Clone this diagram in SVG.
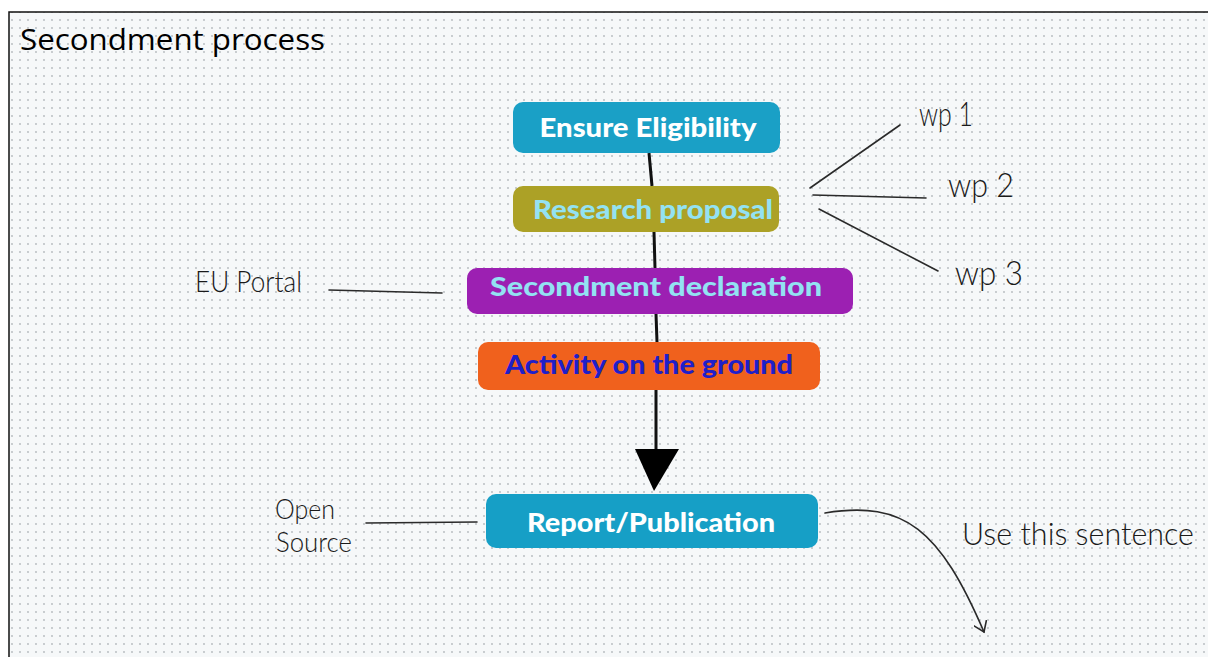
<svg xmlns="http://www.w3.org/2000/svg" width="1208" height="657" viewBox="0 0 1208 657">
  <defs>
    <pattern id="dots" x="0" y="0" width="8" height="8" patternUnits="userSpaceOnUse">
      <rect width="8" height="8" fill="#f6f8f9"/>
      <circle cx="4" cy="4" r="0.9" fill="#b4b9bd"/>
    </pattern>
    <marker id="openV" markerWidth="14" markerHeight="14" refX="10" refY="7" orient="auto" markerUnits="userSpaceOnUse">
      <path d="M0,0 L10,7 L0,14" fill="none" stroke="#2a2a2a" stroke-width="1.6"/>
    </marker>
  </defs>
  <style>
    .box-label { font-family: "Lato", "DejaVu Sans", sans-serif; font-weight: 900; font-size: 27px; text-anchor: middle; }
    .hand { font-family: "Lato", "Open Sans", sans-serif; font-weight: 300; fill: #1a1a1a; }
    .sketch { stroke: #2a2a2a; stroke-width: 1.6; fill: none; stroke-linecap: round; }
    .spine { stroke: #111; stroke-width: 3; fill: none; }
  </style>

  <!-- page and dotted canvas -->
  <rect width="1208" height="657" fill="#ffffff"/>
  <rect x="9" y="12" width="1199" height="645" fill="url(#dots)"/>
  <path d="M9,657 V12 H1208" stroke="#111" stroke-width="1.5" fill="none"/>

  <text x="20" y="50" font-family="Open Sans, Liberation Sans, sans-serif" font-size="30" fill="#000" textLength="305" lengthAdjust="spacingAndGlyphs">Secondment process</text>

  <!-- connectors -->
  <g id="connectors">
    <path class="spine" d="M649,153 L652,186"/>
    <path class="spine" d="M654,232 L655,268"/>
    <path class="spine" d="M656,314 L657,342"/>
    <path class="spine" d="M656,390 L656,452"/>
    <polygon points="635,449 679,449 654,491" fill="#000"/>
    <path class="sketch" d="M810,188 L900,125"/>
    <path class="sketch" d="M813,195 L926,198"/>
    <path class="sketch" d="M819,209 L938,271"/>
    <path class="sketch" d="M329,290 L442,293"/>
    <path class="sketch" d="M366,523 L477,522"/>
    <path class="sketch" d="M825,513 C905,500 940,530 984,632" marker-end="url(#openV)"/>
  </g>

  <g id="ensure-eligibility">
    <rect x="513" y="102" width="267" height="51" rx="10" fill="#1aa0c6"/>
    <text class="box-label" x="648" y="137" fill="#ffffff" textLength="217" lengthAdjust="spacingAndGlyphs">Ensure Eligibility</text>
  </g>
  <g id="research-proposal">
    <rect x="513" y="186" width="266" height="46" rx="10" fill="#aca126"/>
    <text class="box-label" x="653" y="219" fill="#93e2f2" textLength="240" lengthAdjust="spacingAndGlyphs">Research proposal</text>
  </g>
  <g id="secondment-declaration">
    <rect x="467" y="268" width="386" height="46" rx="10" fill="#9c20b2"/>
    <text class="box-label" x="656" y="296" fill="#93e2f2" textLength="332" lengthAdjust="spacingAndGlyphs">Secondment declaration</text>
  </g>
  <g id="activity-on-the-ground">
    <rect x="478" y="342" width="342" height="48" rx="10" fill="#f0611d"/>
    <text class="box-label" x="649" y="374" fill="#1f1fc9" textLength="288" lengthAdjust="spacingAndGlyphs">Activity on the ground</text>
  </g>
  <g id="report-publication">
    <rect x="486" y="494" width="332" height="54" rx="10" fill="#169fc6"/>
    <text class="box-label" x="651" y="532" fill="#ffffff" textLength="248" lengthAdjust="spacingAndGlyphs">Report/Publication</text>
  </g>

  <g id="wp1"><text class="hand" x="919" y="126" font-size="34" textLength="54" lengthAdjust="spacingAndGlyphs">wp 1</text></g>
  <g id="wp2"><text class="hand" x="948" y="197" font-size="34" textLength="66" lengthAdjust="spacingAndGlyphs">wp 2</text></g>
  <g id="wp3"><text class="hand" x="955" y="285" font-size="34" textLength="68" lengthAdjust="spacingAndGlyphs">wp 3</text></g>
  <g id="eu-portal"><text class="hand" x="195" y="292" font-size="30" textLength="107" lengthAdjust="spacingAndGlyphs">EU Portal</text></g>
  <g id="open-source">
    <text class="hand" x="275" y="519" font-size="28" textLength="60" lengthAdjust="spacingAndGlyphs">Open</text>
    <text class="hand" x="276" y="552" font-size="28" textLength="76" lengthAdjust="spacingAndGlyphs">Source</text>
  </g>
  <g id="use-this-sentence"><text class="hand" x="962" y="545" font-size="32" textLength="232" lengthAdjust="spacingAndGlyphs">Use this sentence</text></g>
</svg>
